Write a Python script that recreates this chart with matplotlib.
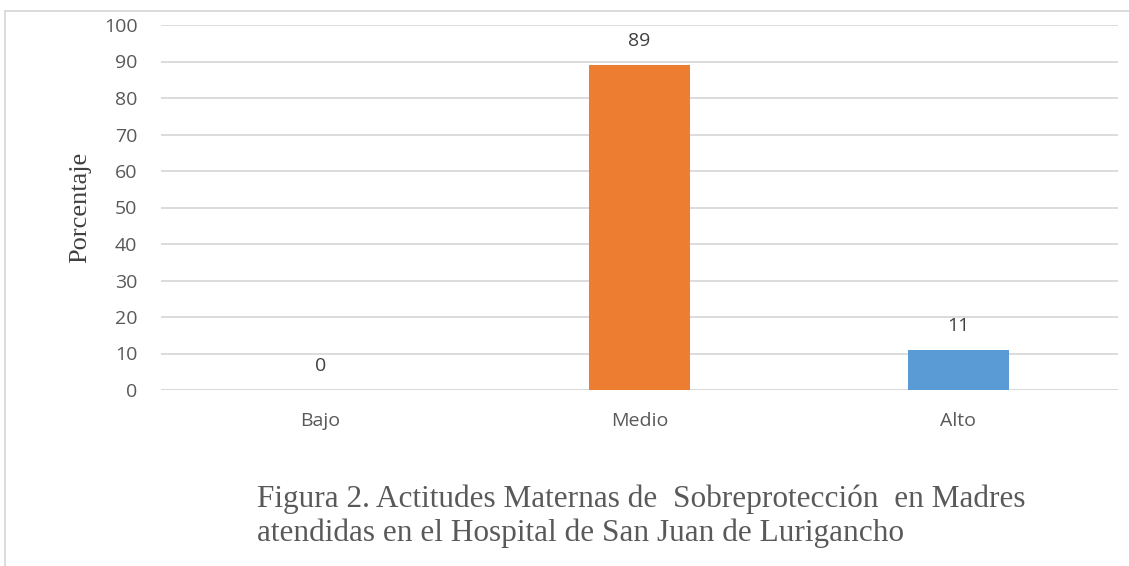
import matplotlib.pyplot as plt
from matplotlib.lines import Line2D

categorias = ["Bajo", "Medio", "Alto"]
porcentaje = [0, 89, 11]
colores = ["#4472C4", "#ED7D31", "#5B9BD5"]
yticks = list(range(0, 101, 10))

plt.rcParams['font.family'] = ['Open Sans', 'DejaVu Sans']

fig = plt.figure(figsize=(11.29, 5.66), dpi=100)
ax = fig.add_axes([161/1129, 1 - 390/566, (1118-161)/1129, (390-25)/566])

x = range(len(categorias))
bars = ax.bar(x, porcentaje, width=0.317, color=colores, zorder=3)
for xi, v in zip(x, porcentaje):
    ax.text(xi, v + 6.5, str(v), ha="center", va="center", fontsize=14, color="#404040")

ax.set_xlim(-0.5, 2.5)
ax.set_ylim(0, 100)
ax.set_yticks(yticks)
ax.set_xticks(list(x))
ax.set_xticklabels(categorias)
ax.tick_params(axis="y", length=0, pad=17, labelsize=14, labelcolor="#595959")
ax.tick_params(axis="x", length=0, pad=16, labelsize=14, labelcolor="#595959")
ax.yaxis.grid(True, color="#D9D9D9", linewidth=1.3, zorder=0)
for s in ax.spines.values():
    s.set_visible(False)
ax.axhline(0, color="#D9D9D9", linewidth=1.3, zorder=2)

fig.text(80/1129, 1 - 207/566, "Porcentaje", rotation=90, ha="center", va="center",
         fontsize=19, family="Liberation Serif", color="#404040")

fig.text(257/1129, 1 - 516/566,
         "Figura 2. Actitudes Maternas de  Sobreprotección  en Madres\natendidas en el Hospital de San Juan de Lurigancho",
         ha="left", va="center", fontsize=22.5, family="Liberation Serif", color="#595959",
         linespacing=1.22)

# outer frame
fig.add_artist(Line2D([5/1129, 5/1129], [0, 1 - 11/566], transform=fig.transFigure, color="#D9D9D9", linewidth=1.3))
fig.add_artist(Line2D([5/1129, 1], [1 - 11/566, 1 - 11/566], transform=fig.transFigure, color="#D9D9D9", linewidth=1.3))

fig.savefig("out.png", dpi=100)
